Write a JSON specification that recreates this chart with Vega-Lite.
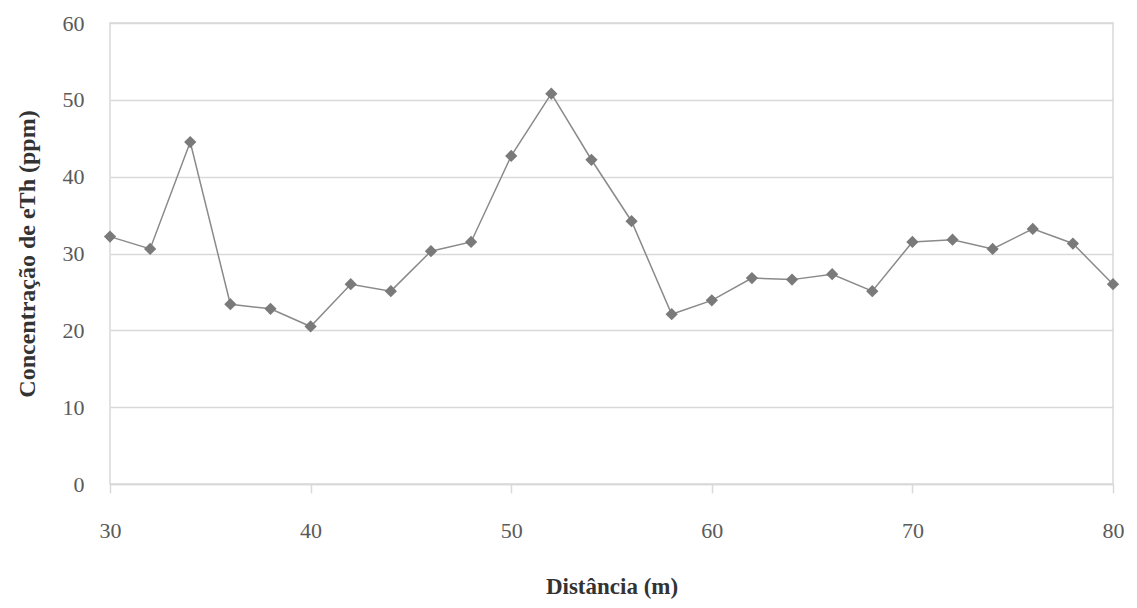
{
  "$schema": "https://vega.github.io/schema/vega-lite/v6.json",
  "width": 1003,
  "height": 461,
  "autosize": {"type": "none"},
  "padding": {"left": 110, "top": 23, "right": 24, "bottom": 124},
  "background": "white",
  "config": {
    "view": {"stroke": "#d9d9d9", "strokeWidth": 1.5},
    "font": "Liberation Serif"
  },
  "data": {
    "values": [
      {"d": 30, "c": 32.2}, {"d": 32, "c": 30.6}, {"d": 34, "c": 44.5},
      {"d": 36, "c": 23.4}, {"d": 38, "c": 22.8}, {"d": 40, "c": 20.5},
      {"d": 42, "c": 26.0}, {"d": 44, "c": 25.1}, {"d": 46, "c": 30.3},
      {"d": 48, "c": 31.5}, {"d": 50, "c": 42.7}, {"d": 52, "c": 50.8},
      {"d": 54, "c": 42.2}, {"d": 56, "c": 34.2}, {"d": 58, "c": 22.1},
      {"d": 60, "c": 23.9}, {"d": 62, "c": 26.8}, {"d": 64, "c": 26.6},
      {"d": 66, "c": 27.3}, {"d": 68, "c": 25.1}, {"d": 70, "c": 31.5},
      {"d": 72, "c": 31.8}, {"d": 74, "c": 30.6}, {"d": 76, "c": 33.2},
      {"d": 78, "c": 31.3}, {"d": 80, "c": 26.0}
    ]
  },
  "encoding": {
    "x": {
      "field": "d", "type": "quantitative",
      "scale": {"domain": [30, 80], "nice": false, "zero": false},
      "axis": {
        "title": "Distância (m)",
        "values": [30, 40, 50, 60, 70, 80],
        "grid": false,
        "domainColor": "#d9d9d9", "domainWidth": 1.5,
        "tickColor": "#d9d9d9", "tickSize": 9, "tickWidth": 1.5,
        "labelFont": "Liberation Serif", "labelFontSize": 22, "labelColor": "#5a5a5a",
        "labelPadding": 27, "labelFlush": false, "labelOverlap": false,
        "titleFont": "Liberation Serif", "titleFontSize": 23, "titleFontWeight": "bold",
        "titleColor": "#333333", "titlePadding": 34
      }
    },
    "y": {
      "field": "c", "type": "quantitative",
      "scale": {"domain": [0, 60], "nice": false},
      "axis": {
        "title": "Concentração de eTh (ppm)",
        "values": [0, 10, 20, 30, 40, 50, 60],
        "grid": true, "gridColor": "#d9d9d9", "gridWidth": 1.5,
        "domain": false, "ticks": false,
        "labelFont": "Liberation Serif", "labelFontSize": 22, "labelColor": "#5a5a5a",
        "labelPadding": 26,
        "titleFont": "Liberation Serif", "titleFontSize": 24, "titleFontWeight": "bold",
        "titleColor": "#333333", "titlePadding": 23
      }
    }
  },
  "layer": [
    {"mark": {"type": "line", "color": "#8a8a8a", "strokeWidth": 1.5}},
    {"mark": {"type": "point", "shape": "diamond", "filled": true, "color": "#7a7a7a", "size": 150, "opacity": 1}}
  ]
}
